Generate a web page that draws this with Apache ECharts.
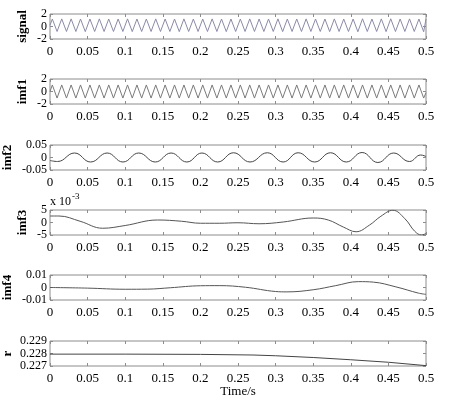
<!DOCTYPE html>
<html><head><meta charset="utf-8">
<script src="https://cdn.jsdelivr.net/npm/echarts@6/dist/echarts.min.js"></script>
<style>html,body{margin:0;padding:0;background:#fff}#c{width:454px;height:405px}</style>
</head><body><div id="c"></div>
<script>
// x tick labels (s)
const xTicks = [0, 0.05, 0.1, 0.15, 0.2, 0.25, 0.3, 0.35, 0.4, 0.45, 0.5];
const panelNames = ['signal', 'imf1', 'imf2', 'imf3', 'imf4', 'r'];
const yMins = [-2, -2, -0.05, -5, -0.01, 0.227];
const yMaxs = [2, 2, 0.05, 5, 0.01, 0.229];
const yIntervals = [2, 2, 0.05, 5, 0.01, 0.001];

// turning points of the fast oscillation (signal, imf1)
const tFast = [0,0.0031,0.0094,0.0156,0.0219,0.0281,0.0344,0.0406,0.0469,0.0531,0.0594,0.0656,0.0719,0.0781,0.0844,0.0906,0.0969,0.1031,0.1094,0.1156,0.1219,0.1281,0.1344,0.1406,0.1469,0.1531,0.1594,0.1656,0.1719,0.1781,0.1844,0.1906,0.1969,0.2031,0.2094,0.2156,0.2219,0.2281,0.2344,0.2406,0.2469,0.2531,0.2594,0.2656,0.2719,0.2781,0.2844,0.2906,0.2969,0.3031,0.3094,0.3156,0.3219,0.3281,0.3344,0.3406,0.3469,0.3531,0.3594,0.3656,0.3719,0.3781,0.3844,0.3906,0.3969,0.4031,0.4094,0.4156,0.4219,0.4281,0.4344,0.4406,0.4469,0.4531,0.4594,0.4656,0.4719,0.4781,0.4844,0.4906,0.4969,0.5];
const signalV = [0.2,1.2,-0.8,1.22,-0.8,1.22,-0.8,1.2,-0.82,1.2,-0.8,1.22,-0.8,1.2,-0.8,1.2,-0.8,1.22,-0.82,1.2,-0.8,1.2,-0.8,1.22,-0.8,1.2,-0.8,1.2,-0.82,1.22,-0.8,1.2,-0.8,1.2,-0.8,1.22,-0.8,1.2,-0.82,1.2,-0.8,1.2,-0.8,1.22,-0.8,1.2,-0.8,1.2,-0.8,1.22,-0.82,1.2,-0.8,1.2,-0.8,1.22,-0.8,1.2,-0.8,1.2,-0.82,1.22,-0.8,1.2,-0.8,1.2,-0.84,1.24,-0.8,1.2,-0.8,1.22,-0.82,1.24,-0.8,1.2,-0.8,1.22,-0.8,1.2,-0.84,1.2,-0.8,0.1];
const imf1V = [0,1.05,-1.05,1.05,-1.05,1.05,-1.05,1.05,-1.05,1.05,-1.05,1.05,-1.05,1.05,-1.05,1.05,-1.05,1.05,-1.05,1.05,-1.05,1.05,-1.05,1.05,-1.05,1.05,-1.05,1.05,-1.05,1.05,-1.05,1.05,-1.05,1.05,-1.05,1.05,-1.05,1.05,-1.05,1.05,-1.05,1.05,-1.05,1.05,-1.05,1.05,-1.05,1.05,-1.05,1.05,-1.05,1.05,-1.05,1.05,-1.05,1.05,-1.05,1.05,-1.05,1.05,-1.05,1.05,-1.05,1.05,-1.05,1.05,-1.05,1.05,-1.05,1.05,-1.05,1.05,-1.05,1.05,-1.05,1.05,-1.05,1.05,-1.05,1.05,-1.05,-0.2];

const tImf2 = [0,0.010,0.0326,0.054,0.076,0.097,0.118,0.14,0.161,0.182,0.202,0.223,0.244,0.266,0.289,0.31,0.33,0.352,0.373,0.394,0.415,0.436,0.457,0.478,0.493,0.5];
const imf2V = [-0.012,-0.016,0.018,-0.018,0.018,-0.018,0.018,-0.018,0.018,-0.018,0.018,-0.018,0.019,-0.018,0.019,-0.018,0.019,-0.018,0.019,-0.018,0.02,-0.02,0.018,-0.016,0.01,0.004];

const tImf3 = [0,0.012,0.04,0.07,0.1,0.143,0.175,0.2,0.225,0.25,0.278,0.31,0.35,0.37,0.39,0.407,0.425,0.44,0.456,0.472,0.485,0.494,0.5];
const imf3V = [2.6,2.6,0.5,-2.3,-1.2,1.0,0.5,-0.3,-0.3,-0.1,-0.5,0.2,1.8,1.0,-1.8,-3.7,-1.0,2.5,4.9,1.5,-3.5,-5,-4.4];

const tImf4 = [0,0.05,0.1,0.13,0.16,0.2,0.225,0.26,0.3,0.315,0.35,0.38,0.41,0.43,0.46,0.49,0.5];
const imf4V = [0,-0.0005,-0.0014,-0.0013,-0.0002,0.0014,0.0015,0.0002,-0.0032,-0.0035,-0.0018,0.0015,0.0047,0.0043,0.0005,-0.0045,-0.0055];

const tR = [0,0.1,0.2,0.27,0.3,0.35,0.4,0.45,0.5];
const rV = [0.22795,0.22795,0.22793,0.22788,0.22782,0.22768,0.2275,0.2273,0.22703];

const seriesT = [tFast, tFast, tImf2, tImf3, tImf4, tR];
const seriesV = [signalV, imf1V, imf2V, imf3V, imf4V, rV];
const colors = ['#8a8aa8', '#7a7a7a', '#444', '#555', '#555', '#444'];
const smooths = [false, false, 0.45, 0.4, 0.4, false];
const nameGaps = [21, 21, 36, 21, 36, 36];
const yDecimals = [0, 0, 2, 0, 2, 3];

const tops = [14, 79, 145, 210, 275, 341];
const FONT = 'Liberation Serif, Times New Roman, serif';

const grids = [], xAxes = [], yAxes = [], series = [];
for (let i = 0; i < 6; i++) {
  grids.push({left: 50, right: 28, top: tops[i], height: 25, show: true,
    borderColor: '#8c8c8c', borderWidth: 1, outerBoundsMode: 'none', containLabel: false});
  const base = {type: 'value', gridIndex: i, min: xTicks[0], max: xTicks[xTicks.length - 1],
    interval: 0.05, splitLine: {show: false},
    axisLine: {show: false, onZero: false},
    axisTick: {show: true, inside: true, length: 3, lineStyle: {color: '#8c8c8c'}}};
  xAxes.push(Object.assign({}, base, {position: 'bottom',
    axisLabel: {show: true, margin: 6, color: '#000', fontFamily: FONT, fontSize: 13,
      formatter: v => String(+v.toFixed(2))},
    name: i === 5 ? 'Time/s' : '', nameLocation: 'middle', nameGap: 19, nameMoveOverlap: false,
    nameTextStyle: {color: '#000', fontFamily: FONT, fontSize: 13}}));
  xAxes.push(Object.assign({}, base, {position: 'top', axisLabel: {show: false}}));
  const ybase = {type: 'value', gridIndex: i, min: yMins[i], max: yMaxs[i], interval: yIntervals[i],
    splitLine: {show: false}, axisLine: {show: false, onZero: false},
    axisTick: {show: true, inside: true, length: 3, lineStyle: {color: '#8c8c8c'}}};
  const dec = yDecimals[i];
  yAxes.push(Object.assign({}, ybase, {position: 'left',
    axisLabel: {show: true, margin: 3, color: '#000', fontFamily: FONT, fontSize: 12, lineHeight: 9,
      hideOverlap: false, showMinLabel: true, showMaxLabel: true, interval: 0,
      formatter: v => { const s = (+v).toFixed(dec); return (+s === 0) ? '0' : s; }},
    name: panelNames[i], nameLocation: 'middle', nameGap: nameGaps[i], nameRotate: 90,
    nameMoveOverlap: false,
    nameTextStyle: {color: '#000', fontFamily: FONT, fontSize: 13, fontWeight: 'bold'}}));
  yAxes.push(Object.assign({}, ybase, {position: 'right', axisLabel: {show: false}}));
  const data = seriesT[i].map((t, k) => [t, seriesV[i][k]]);
  series.push({type: 'line', xAxisIndex: 2 * i, yAxisIndex: 2 * i, data: data,
    showSymbol: false, smooth: smooths[i], animation: false, clip: true,
    lineStyle: {color: colors[i], width: 1}});
}

const chart = echarts.init(document.getElementById('c'), null, {renderer: 'canvas'});
chart.setOption({
  animation: false,
  grid: grids, xAxis: xAxes, yAxis: yAxes, series: series,
  graphic: [
    {type: 'text', left: 50, top: 196, style: {text: 'x 10', fontFamily: FONT, fontSize: 12, fill: '#000'}},
    {type: 'text', left: 72, top: 192, style: {text: '-3', fontFamily: FONT, fontSize: 9, fill: '#000'}}
  ]
});
</script></body></html>
